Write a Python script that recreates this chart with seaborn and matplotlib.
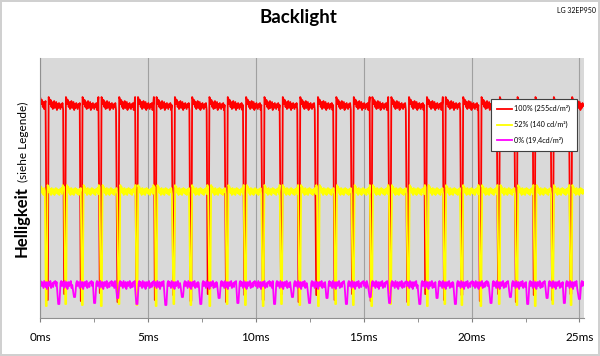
import numpy as np
import pandas as pd
import seaborn as sns
import matplotlib.pyplot as plt

# dip positions (ms)
red_dips = [0.34, 1.14, 1.91, 2.79, 3.61, 4.48, 5.34, 6.19, 6.99, 7.79,
            8.64, 9.49, 10.34, 11.19, 12.00, 12.82, 13.67, 14.48, 15.34, 16.22,
            17.04, 17.87, 18.74, 19.55, 20.40, 21.25, 22.07, 22.90, 23.75, 24.60]
yellow_dips = [0.29, 1.19, 1.96, 2.84, 3.66, 4.49, 5.38, 6.20, 6.99, 7.87,
               8.67, 9.52, 10.34, 11.19, 12.04, 12.90, 13.70, 14.52, 15.37, 16.25,
               17.07, 17.95, 18.76, 19.55, 20.43, 21.28, 22.10, 22.95, 23.76, 24.61]
magenta_dips = [0.87, 1.60, 2.53, 3.60, 4.49, 5.83, 6.60, 7.45, 8.30, 9.17,
                10.87, 11.70, 12.49, 13.30, 14.20, 15.30, 16.20, 17.60, 18.40, 19.25,
                20.90, 21.80, 22.60, 23.50, 24.30, 25.00]

# low values at the dips (arbitrary brightness units)
red_lows = [18, 24, 17, 25, 16, 24, 18, 23, 17, 24, 16, 23, 18, 24, 16,
            23, 18, 24, 17, 25, 16, 24, 18, 23, 17, 24, 16, 23, 18, 24]
yellow_lows = [12, 14, 13, 12, 14, 13, 12, 14, 13, 12, 14, 13, 12, 14, 13,
               12, 14, 13, 12, 14, 13, 12, 14, 13, 12, 14, 13, 12, 14, 13]
magenta_lows = [14, 21, 15, 20, 14, 13, 21, 14, 20, 15, 14, 21, 15, 20, 14,
                21, 15, 14, 20, 14, 15, 21, 14, 20, 15, 19]

# plateau levels and ripple pattern along the plateaus
red_level = 212
yellow_level = 127
magenta_level = 33
red_ripple = [9, 7, 2, 6, -1, 4, -3, 2, 5, -2, 1, 4, -4, 2, -2, 3, 0, -3, 2, -1, 3, -4, 1]
yellow_ripple = [6, 4, 4, -2, 2, -4, 3, 0, -3, 2, -4, 1, 3, -2, 2, -3, 1, -4, 2, -1, 3, -3]
magenta_ripple = [2, 4, -1, 3, 0, -3, 4, 1, -2, 3, -4, 0, 3, -1, 2, 4, -3, 0, 2, -2, 3]

legend_labels = ["100% (255cd/m²)", "52% (140 cd/m²)", "0% (19,4cd/m²)"]
x_ticks = [0, 5, 10, 15, 20, 25]


def build(dips, lows, level, ripple, w, end=25.2, step=0.032):
    t, y = [], []
    start = 0.0
    for d, lo in zip(dips + [end + 1], lows + [None]):
        grid = np.arange(start, min(d - w, end), step)
        for j, tt in enumerate(grid):
            t.append(tt)
            y.append(level + ripple[j % len(ripple)])
        if lo is None:
            break
        t += [d - w / 3, d + w / 3]
        y += [lo, lo]
        start = d + w
    return pd.DataFrame({"t": t, "y": y})


red = build(red_dips, red_lows, red_level, red_ripple, 0.06)
yellow = build(yellow_dips, yellow_lows, yellow_level, yellow_ripple, 0.06)
magenta = build(magenta_dips, magenta_lows, magenta_level, magenta_ripple, 0.08)

plt.rcParams['font.family'] = ['Lato', 'DejaVu Sans']
fig = plt.figure(figsize=(6, 3.56), dpi=100)
fig.patch.set_edgecolor("#d0d0d0")
fig.patch.set_linewidth(1.5)
ax = fig.add_axes([0.0667, 0.1067, 0.9063, 0.7303])
ax.set_facecolor("#d9d9d9")

for df, col, lab in zip([red, yellow, magenta], ["#ff0000", "#ffff00", "#ff00ff"], legend_labels):
    sns.lineplot(data=df, x="t", y="y", color=col, lw=1.3, sort=False,
                 estimator=None, ax=ax, label=lab)

ax.set_xlim(0, 25.2)
ax.set_ylim(0, 260)
ax.set_xticks(x_ticks)
ax.set_xticklabels([f"{v}ms" for v in x_ticks], fontsize=8.5)
ax.set_xticks(np.arange(0, 25.1, 2.5), minor=True)
ax.tick_params(axis="x", which="both", length=3, pad=7, color="#808080")
ax.set_yticks([])
ax.grid(axis="x", color="#a0a0a0", lw=0.8)
ax.set_axisbelow(True)
for s in ["top", "right"]:
    ax.spines[s].set_visible(False)
for s in ["left", "bottom"]:
    ax.spines[s].set_color("#909090")
ax.set_xlabel("")
ax.set_ylabel("")

leg = ax.legend(loc="upper right", bbox_to_anchor=(0.967, 0.733),
                bbox_transform=fig.transFigure, fontsize=5.2, frameon=True,
                fancybox=False, edgecolor="#404040", framealpha=1,
                handlelength=2.0, handletextpad=0.3, labelspacing=1.2, borderpad=0.9)
leg.get_frame().set_linewidth(0.8)

fig.text(0.497, 0.95, "Backlight", ha="center", va="center",
         fontsize=13.5, fontweight="bold")
fig.text(0.993, 0.97, "LG 32EP950", ha="right", va="center", fontsize=5)

# y label: bold word plus smaller note, sharing one baseline
hel = fig.text(27 / 600, 1 - 257 / 356, "Helligkeit", rotation=90, rotation_mode="anchor",
               ha="left", va="baseline", fontsize=12, fontweight="bold")
fig.canvas.draw()
bb = hel.get_window_extent().transformed(fig.transFigure.inverted())
fig.text(27 / 600, bb.y1 + 4 / 356, "(siehe Legende)", rotation=90, rotation_mode="anchor",
         ha="left", va="baseline", fontsize=8.5)

fig.savefig("out.png", dpi=100)
